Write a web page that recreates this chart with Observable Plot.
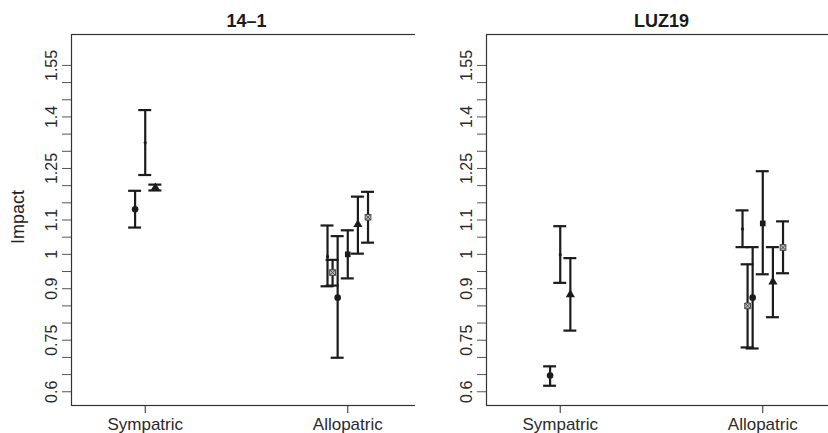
<!DOCTYPE html>
<html><head><meta charset="utf-8">
<script src="https://cdn.jsdelivr.net/npm/d3@7"></script>
<script src="https://cdn.jsdelivr.net/npm/@observablehq/plot@0.6"></script>
<style>
html,body{margin:0;padding:0;background:#fff;overflow:hidden;width:828px;height:433px;}
#c{position:relative;width:828px;height:433px;overflow:hidden;background:#fff;}
#c svg{position:absolute;top:0;}
</style></head><body><div id="c"></div>
<script>
// ---- data ----
const panelTitles = ["14–1", "LUZ19"];
const sites = ["Sympatric", "Allopatric"];
const sitePos = [1, 2];
const yLabel = "Impact";
const yTicks = [0.6,0.65,0.7,0.75,0.8,0.85,0.9,0.95,1,1.05,1.1,1.15,1.2,1.25,1.3,1.35,1.4,1.45,1.5,1.55];
const yTickLabels = [0.6,0.75,0.9,1,1.1,1.25,1.4,1.55];

const pPanel  = ["14–1","14–1","14–1","14–1","14–1","14–1","14–1","14–1","14–1",
                 "LUZ19","LUZ19","LUZ19","LUZ19","LUZ19","LUZ19","LUZ19","LUZ19","LUZ19"];
const pSite   = ["Sympatric","Sympatric","Sympatric","Allopatric","Allopatric","Allopatric","Allopatric","Allopatric","Allopatric",
                 "Sympatric","Sympatric","Sympatric","Allopatric","Allopatric","Allopatric","Allopatric","Allopatric","Allopatric"];
const pSeries = ["A","B","C","B","D","A","E","C","F",
                 "A","B","C","B","D","A","E","C","F"];
const pMean   = [1.131,1.325,1.194,0.994,0.947,0.874,1.000,1.087,1.108,
                 0.647,0.999,0.883,1.074,0.850,0.874,1.090,0.920,1.020];
const pLo     = [1.078,1.231,1.186,0.907,0.909,0.699,0.930,1.002,1.034,
                 0.6175,0.917,0.778,1.021,0.729,0.726,0.942,0.817,0.945];
const pHi     = [1.185,1.420,1.203,1.084,0.984,1.053,1.070,1.168,1.182,
                 0.674,1.082,0.989,1.128,0.971,1.021,1.242,1.021,1.096];

// dodge slot of each series within a site group
const dodge = {
  Sympatric:  {A: -0.05, B: 0, C: 0.05},
  Allopatric: {B: -0.1, D: -0.075, A: -0.05, E: 0, C: 0.05, F: 0.1}
};

const data = pMean.map((m, i) => ({
  panel: pPanel[i], site: pSite[i], series: pSeries[i],
  mean: m, lo: pLo[i], hi: pHi[i],
  x: sitePos[sites.indexOf(pSite[i])] + dodge[pSite[i]][pSeries[i]]
}));

const labelSet = new Set(yTickLabels);
const cap = 0.032;
const ink = "#1c1a1b";

const squareX = {
  draw(ctx, size) {
    const h = Math.sqrt(size) / 2;
    ctx.moveTo(-h, -h); ctx.lineTo(h, -h); ctx.lineTo(h, h); ctx.lineTo(-h, h); ctx.closePath();
    ctx.moveTo(-h, -h); ctx.lineTo(h, h);
    ctx.moveTo(h, -h); ctx.lineTo(-h, h);
  }
};

function panel(i) {
  const rows = data.filter(d => d.panel === panelTitles[i]);
  const ser = s => rows.filter(d => d.series === s);
  return Plot.plot({
    width: 422, height: 433,
    marginLeft: 71, marginRight: 1, marginTop: 34, marginBottom: 28,
    x: {domain: [0.636, 2.364]},
    y: {domain: [0.56, 1.64]},
    style: {fontFamily: "'Liberation Sans', Arial, Helvetica, sans-serif", color: "#2a2a2a", background: "white", overflow: "visible"},
    marks: [
      Plot.axisY({ticks: yTicks, tickSize: 9, tickRotate: -90, tickPadding: 5.5, fontSize: 16,
        tickFormat: d => labelSet.has(d) ? String(d) : "", label: null, stroke: "#555"}),
      ...(i === 0 ? [Plot.text([yLabel], {text: d => d, frameAnchor: "left", textAnchor: "middle", rotate: -90, dx: -53, dy: -3, fontSize: 18, fill: "#222"})] : []),
      Plot.axisX({ticks: sitePos, tickSize: 8, tickPadding: 4, fontSize: 17,
        tickFormat: d => sites[sitePos.indexOf(d)], label: null}),
      Plot.frame({stroke: "#333", strokeWidth: 1.2}),
      Plot.ruleX(rows, {x: "x", y1: "lo", y2: "hi", stroke: ink, strokeWidth: 2.2}),
      Plot.ruleY(rows, {y: "lo", x1: d => d.x - cap, x2: d => d.x + cap, stroke: ink, strokeWidth: 2.2}),
      Plot.ruleY(rows, {y: "hi", x1: d => d.x - cap, x2: d => d.x + cap, stroke: ink, strokeWidth: 2.2}),
      Plot.dot(ser("A"), {x: "x", y: "mean", symbol: "circle", r: 3.3, fill: ink, stroke: null}),
      Plot.dot(ser("B"), {x: "x", y: "mean", symbol: "diamond", r: 1.8, fill: ink, stroke: null}),
      Plot.dot(ser("C"), {x: "x", y: "mean", symbol: "triangle", r: 3.4, fill: ink, stroke: null}),
      Plot.dot(ser("E"), {x: "x", y: "mean", symbol: "square", r: 3.2, fill: ink, stroke: null}),
      Plot.dot(ser("D"), {x: "x", y: "mean", symbol: squareX, r: 3.2, fill: "#c8c8c8", stroke: "#444", strokeWidth: 1}),
      Plot.dot(ser("F"), {x: "x", y: "mean", symbol: squareX, r: 3.2, fill: "#c8c8c8", stroke: "#444", strokeWidth: 1}),
      Plot.text([panelTitles[i]], {text: d => d, frameAnchor: "top", lineAnchor: "middle", dy: -13, fontWeight: "bold", fontSize: 18, fill: "#1a1a1a"})
    ]
  });
}

const c = document.getElementById("c");
const s1 = panel(0); s1.style.left = "0px"; c.appendChild(s1);
const s2 = panel(1); s2.style.left = "415.3px"; c.appendChild(s2);
</script>
</body></html>
